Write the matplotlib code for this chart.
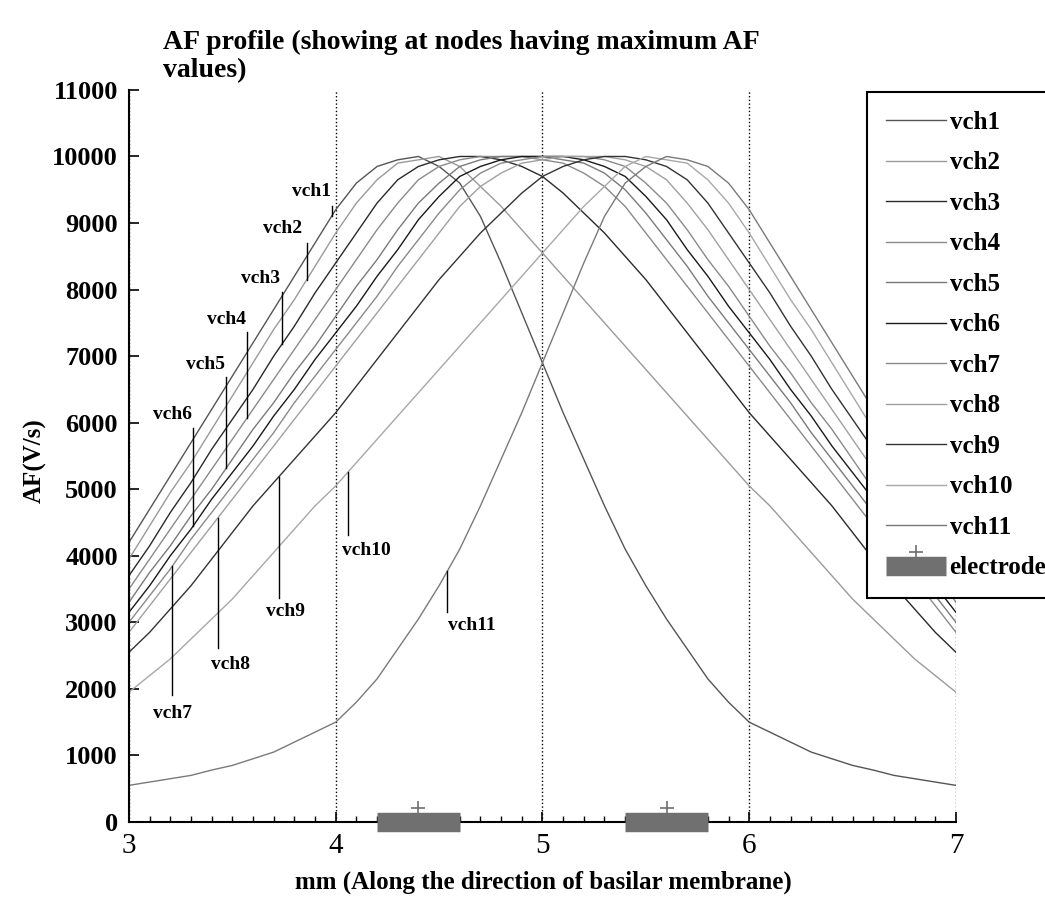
import matplotlib
matplotlib.use('Agg')
import matplotlib.pyplot as plt
import numpy as np
from matplotlib.path import Path
from matplotlib.ticker import MultipleLocator

# Position along the basilar membrane (mm)
x_mm = [3.0, 3.1, 3.2, 3.3, 3.4, 3.5, 3.6, 3.7, 3.8, 3.9,
        4.0, 4.1, 4.2, 4.3, 4.4, 4.5, 4.6, 4.7, 4.8, 4.9,
        5.0, 5.1, 5.2, 5.3, 5.4, 5.5, 5.6, 5.7, 5.8, 5.9,
        6.0, 6.1, 6.2, 6.3, 6.4, 6.5, 6.6, 6.7, 6.8, 6.9, 7.0]

# AF (V/s) per virtual channel
vch1 = [4200, 4700, 5200, 5700, 6200, 6700, 7200, 7700, 8200, 8700,
        9200, 9600, 9850, 9950, 10000, 9850, 9600, 9100, 8400, 7650,
        6900, 6150, 5450, 4750, 4100, 3550, 3050, 2600, 2150, 1800,
        1500, 1350, 1200, 1050, 950, 850, 780, 700, 650, 600, 550]
vch2 = [3950, 4450, 4950, 5400, 5900, 6400, 6900, 7400, 7850, 8350,
        8850, 9300, 9650, 9900, 9950, 10000, 9850, 9550, 9250, 8900,
        8550, 8200, 7850, 7500, 7150, 6800, 6450, 6100, 5750, 5400,
        5050, 4750, 4400, 4050, 3700, 3350, 3050, 2750, 2450, 2200, 1950]
vch3 = [3700, 4150, 4650, 5100, 5600, 6050, 6500, 7000, 7450, 7950,
        8400, 8850, 9300, 9650, 9850, 9950, 10000, 10000, 9950, 9850,
        9700, 9450, 9150, 8850, 8500, 8150, 7750, 7350, 6950, 6550,
        6150, 5800, 5450, 5100, 4750, 4350, 3950, 3550, 3200, 2850, 2550]
vch4 = [3500, 3950, 4400, 4850, 5300, 5750, 6200, 6650, 7100, 7550,
        8000, 8450, 8900, 9300, 9650, 9850, 9950, 10000, 10000, 10000,
        9950, 9900, 9750, 9550, 9250, 8850, 8450, 8050, 7650, 7250,
        6850, 6450, 6050, 5650, 5250, 4850, 4450, 4050, 3650, 3250, 2850]
vch5 = [3300, 3750, 4150, 4600, 5000, 5450, 5900, 6300, 6750, 7150,
        7600, 8050, 8450, 8900, 9300, 9600, 9850, 9950, 10000, 10000,
        10000, 9950, 9900, 9750, 9500, 9150, 8750, 8350, 7900, 7500,
        7100, 6700, 6300, 5850, 5450, 5050, 4650, 4250, 3800, 3400, 3000]
vch6 = [3150, 3550, 4000, 4400, 4850, 5250, 5650, 6100, 6500, 6950,
        7350, 7750, 8200, 8600, 9050, 9400, 9700, 9850, 9950, 10000,
        10000, 10000, 9950, 9850, 9700, 9400, 9050, 8600, 8200, 7750,
        7350, 6950, 6500, 6100, 5650, 5250, 4850, 4400, 4000, 3550, 3150]
vch7 = [3000, 3400, 3800, 4250, 4650, 5050, 5450, 5850, 6300, 6700,
        7100, 7500, 7900, 8350, 8750, 9150, 9500, 9750, 9900, 9950,
        10000, 10000, 10000, 9950, 9850, 9600, 9300, 8900, 8450, 8050,
        7600, 7150, 6750, 6300, 5900, 5450, 5000, 4600, 4150, 3750, 3300]
vch8 = [2850, 3250, 3650, 4050, 4450, 4850, 5250, 5650, 6050, 6450,
        6850, 7250, 7650, 8050, 8450, 8850, 9250, 9550, 9750, 9900,
        9950, 10000, 10000, 10000, 9950, 9850, 9650, 9300, 8900, 8450,
        8000, 7550, 7100, 6650, 6200, 5750, 5300, 4850, 4400, 3950, 3500]
vch9 = [2550, 2850, 3200, 3550, 3950, 4350, 4750, 5100, 5450, 5800,
        6150, 6550, 6950, 7350, 7750, 8150, 8500, 8850, 9150, 9450,
        9700, 9850, 9950, 10000, 10000, 9950, 9850, 9650, 9300, 8850,
        8400, 7950, 7450, 7000, 6500, 6050, 5600, 5100, 4650, 4150, 3700]
vch10 = [1950, 2200, 2450, 2750, 3050, 3350, 3700, 4050, 4400, 4750,
         5050, 5400, 5750, 6100, 6450, 6800, 7150, 7500, 7850, 8200,
         8550, 8900, 9250, 9550, 9850, 10000, 9950, 9900, 9650, 9300,
         8850, 8350, 7850, 7400, 6900, 6400, 5900, 5400, 4950, 4450, 3950]
vch11 = [550, 600, 650, 700, 780, 850, 950, 1050, 1200, 1350,
         1500, 1800, 2150, 2600, 3050, 3550, 4100, 4750, 5450, 6150,
         6900, 7650, 8400, 9100, 9600, 9850, 10000, 9950, 9850, 9600,
         9200, 8700, 8200, 7700, 7200, 6700, 6200, 5700, 5200, 4700, 4200]

channel_names = ['vch1', 'vch2', 'vch3', 'vch4', 'vch5', 'vch6',
                 'vch7', 'vch8', 'vch9', 'vch10', 'vch11']

# Electrode contacts on the membrane (mm)
electrode_from = [4.2, 5.4]
electrode_to = [4.6, 5.8]
electrode_mid = [4.4, 5.6]


def af_profile():
    plt.rcParams['font.family'] = 'serif'
    plt.rcParams['font.serif'] = ['Liberation Serif', 'DejaVu Serif']

    fig = plt.figure(figsize=(10.45, 9.13), dpi=100)
    ax = fig.add_axes([0.1234, 0.0997, 0.7914, 0.8018])

    channels = [vch1, vch2, vch3, vch4, vch5, vch6,
                vch7, vch8, vch9, vch10, vch11]
    colors = ['#555555', '#9a9a9a', '#2a2a2a', '#8a8a8a', '#7a7a7a', '#1a1a1a',
              '#8a8a8a', '#a0a0a0', '#333333', '#a8a8a8', '#7a7a7a']
    handles = []
    for vals, col in zip(channels, colors):
        line, = ax.plot(x_mm, vals, color=col, lw=1.0)
        handles.append(line)

    # electrodes: grey bar on the axis with a cross sitting on top
    plus_up = Path([(-0.5, 1.0), (0.5, 1.0), (0.0, 0.5), (0.0, 1.5)],
                   [Path.MOVETO, Path.LINETO, Path.MOVETO, Path.LINETO])
    for x0, x1, xc in zip(electrode_from, electrode_to, electrode_mid):
        bar, = ax.plot([x0, x1], [0, 0], color='#707070', lw=14,
                       solid_capstyle='butt', clip_on=False, zorder=5)
        mark, = ax.plot([xc], [0], linestyle='none', marker=plus_up,
                        markersize=30, markeredgecolor='#707070',
                        markeredgewidth=1.2, markerfacecolor='none',
                        clip_on=False, zorder=6)
    handles.append((bar, mark))
    labels = channel_names + ['electrode']

    # curve labels with little pointer lines (name, text x, text y, pointer x, pointer start y)
    spots = [('vch1', 3.885, 9470, 3.98, 9250),
             ('vch2', 3.745, 8915, 3.86, 8705),
             ('vch3', 3.634, 8165, 3.74, 7970),
             ('vch4', 3.474, 7550, 3.57, 7370),
             ('vch5', 3.372, 6870, 3.47, 6690),
             ('vch6', 3.213, 6120, 3.31, 5925),
             ('vch7', 3.213, 1625, 3.21, 1910),
             ('vch8', 3.49, 2360, 3.43, 2615),
             ('vch9', 3.755, 3170, 3.725, 3370),
             ('vch10', 4.146, 4075, 4.06, 4315),
             ('vch11', 4.66, 2950, 4.54, 3160)]
    for name, tx, ty, px, py in spots:
        ax.text(tx, ty, name, ha='center', va='center', fontsize=14,
                fontweight='bold', zorder=7)
        yc = np.interp(px, x_mm, channels[channel_names.index(name)])
        ax.plot([px, px], [py, yc], color='k', lw=1.0, zorder=7)

    ax.set_xlim(3, 7)
    ax.set_ylim(0, 11000)
    ax.set_xticks([3, 4, 5, 6, 7])
    ax.xaxis.set_minor_locator(MultipleLocator(0.1))
    ax.set_yticks(np.arange(0, 11001, 1000))
    ax.tick_params(which='both', direction='in', top=False, right=False)
    ax.tick_params(which='major', length=7, width=1.2)
    ax.tick_params(which='minor', length=4, width=1.0)
    ax.tick_params(axis='x', labelsize=21, pad=8)
    ax.tick_params(axis='y', labelsize=19, pad=8)
    for t in ax.get_yticklabels():
        t.set_fontweight('bold')
    ax.xaxis.grid(True, linestyle=':', color='k', lw=1.0)
    ax.spines['top'].set_visible(False)
    ax.spines['right'].set_visible(False)
    ax.spines['left'].set_linewidth(1.5)
    ax.spines['bottom'].set_linewidth(1.5)

    fig.text(0.156, 0.967, 'AF profile (showing at nodes having maximum AF\nvalues)',
             ha='left', va='top', fontsize=20, fontweight='bold', linespacing=1.15)
    fig.text(0.52, 0.034, 'mm (Along the direction of basilar membrane)',
             ha='center', va='center', fontsize=18, fontweight='bold')
    fig.text(0.034, 0.496, 'AF(V/s)', ha='center', va='center', rotation=90,
             fontsize=18, fontweight='bold')

    leg = fig.legend(handles, labels, loc='upper left',
                     bbox_to_anchor=(0.8297, 0.8992), borderaxespad=0,
                     prop={'family': 'serif', 'weight': 'bold', 'size': 18},
                     handlelength=2.4, handletextpad=0.15, labelspacing=0.70,
                     borderpad=0.75, fancybox=False, framealpha=1,
                     edgecolor='k')
    leg.get_frame().set_linewidth(1.5)

    fig.savefig('out.png', dpi=100)


if __name__ == "__main__":
    af_profile()
